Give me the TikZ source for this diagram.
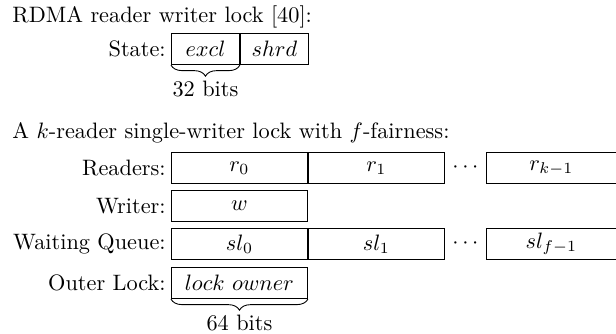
\documentclass[tikz,border=0pt]{standalone}
\usetikzlibrary{calc,positioning,decorations.pathreplacing}

\begin{document}
\begin{tikzpicture}[x=0.4484pt,y=-0.4484pt,
	field/.style={draw,minimum width=61pt,minimum height=14pt,inner sep=0pt},
	halffield/.style={field,minimum width=30.5pt},
	lastfield/.style={field,minimum width=58.3pt},
	rowlabel/.style={inner sep=0pt,left=2.2pt of #1},
	title/.style={anchor=west,inner sep=0pt},
	bitbrace/.style={decorate,decoration={brace,mirror,amplitude=5pt}}]
	\useasboundingbox (0,0) rectangle (616,333);

	\node[title] (rwtitle) at (12,17) {RDMA reader writer lock [40]:};
	\node[halffield,anchor=west] (excl) at (171,49) {$excl$};
	\node[halffield,right=0pt of excl] (shrd) {$shrd$};
	\node[rowlabel=excl] (state) {State:};
	\draw[bitbrace] (excl.south west) -- (excl.south east)
		node[midway,below=3.5pt] (bits32) {32 bits};

	\node[title] (kftitle) at (12,133) {A $k$-reader single-writer lock with $f$-fairness:};
	\node[field,anchor=west] (r0) at (171,168) {$r_0$};
	\node[field,right=0pt of r0] (r1) {$r_1$};
	\node[lastfield,right=18.4pt of r1] (rk) {$r_{k-1}$};
	\node at ($(r1.east)!0.5!(rk.west)$) (rdots) {$\cdots$};
	\node[rowlabel=r0] (readers) {Readers:};

	\node[field,anchor=west] (w) at (171,206) {$w$};
	\node[rowlabel=w] (writer) {Writer:};

	\node[field,anchor=west] (sl0) at (171,244) {$sl_0$};
	\node[field,right=0pt of sl0] (sl1) {$sl_1$};
	\node[lastfield,right=18.4pt of sl1] (slf) {$sl_{f-1}$};
	\node at ($(sl1.east)!0.5!(slf.west)$) (sldots) {$\cdots$};
	\node[rowlabel=sl0] (queue) {Waiting Queue:};

	\node[field,anchor=west] (owner) at (171,283) {$lock\ owner$};
	\node[rowlabel=owner] (outer) {Outer Lock:};
	\draw[bitbrace] (owner.south west) -- (owner.south east)
		node[midway,below=3.5pt] (bits64) {64 bits};
\end{tikzpicture}
\end{document}
